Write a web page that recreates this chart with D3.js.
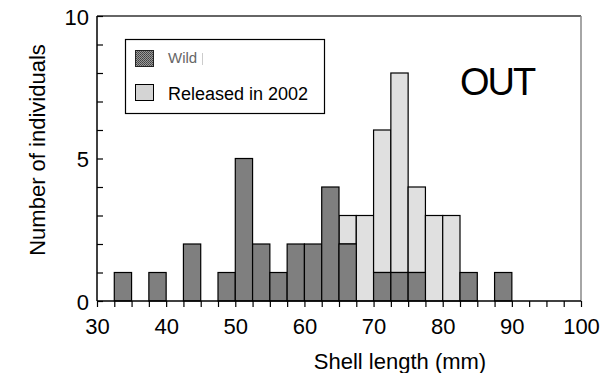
<!DOCTYPE html>
<html>
<head>
<meta charset="utf-8">
<script src="https://cdn.jsdelivr.net/npm/d3@7"></script>
<style>
  html, body { margin: 0; padding: 0; background: #fff; }
  svg { display: block; font-family: "Liberation Sans", Arial, sans-serif; }
</style>
</head>
<body>
<svg id="chart" width="604" height="373"></svg>
<script>
// Lower edges of the 2.5 mm shell-length classes
const binStarts = d3.range(30, 100, 2.5);
// Counts per class
const wildCounts =     [0,1,0,1,0,2,0,1,5,2,1,2,2,4,2,0,1,1,1,0,0,1,0,1,0,0,0,0];
const releasedCounts = [0,0,0,0,0,0,0,0,0,0,0,0,0,0,1,3,5,7,3,3,3,0,0,0,0,0,0,0];
const binWidth = 2.5;

const xTicksMajor = [30, 40, 50, 60, 70, 80, 90, 100];
const yTicksMajor = [0, 5, 10];
const seriesNames = ["Wild", "Released in 2002"];

const svg = d3.select("#chart");
const plot = { left: 97, right: 581, top: 16, bottom: 301 };
const fontSize = 22;

const x = d3.scaleLinear().domain([30, 100]).range([plot.left, plot.right]);
const y = d3.scaleLinear().domain([0, 10]).range([plot.bottom, plot.top]);

const bins = binStarts.map((s, i) => ({ start: s, wild: wildCounts[i], released: releasedCounts[i] }));

// Pattern for the wild swatch
const defs = svg.append("defs");
const pat = defs.append("pattern").attr("id", "dots")
  .attr("width", 2).attr("height", 2).attr("patternUnits", "userSpaceOnUse");
pat.append("rect").attr("width", 2).attr("height", 2).attr("fill", "#9a9a9a");
pat.append("rect").attr("width", 1).attr("height", 1).attr("fill", "#404040");
pat.append("rect").attr("x", 1).attr("y", 1).attr("width", 1).attr("height", 1).attr("fill", "#505050");

// Frame: top and right edges
svg.append("line").attr("x1", plot.left).attr("x2", plot.right)
  .attr("y1", plot.top).attr("y2", plot.top)
  .attr("stroke", "#333").attr("stroke-width", 1.5);
svg.append("line").attr("x1", plot.right).attr("x2", plot.right)
  .attr("y1", plot.top).attr("y2", plot.bottom)
  .attr("stroke", "#888").attr("stroke-width", 1.5);

// Released bars stacked on wild
svg.append("g").selectAll("rect")
  .data(bins.filter(d => d.released > 0))
  .join("rect")
  .attr("x", d => x(d.start))
  .attr("width", d => x(d.start + binWidth) - x(d.start))
  .attr("y", d => y(d.wild + d.released))
  .attr("height", d => y(d.wild) - y(d.wild + d.released))
  .attr("fill", "#e0e0e0").attr("stroke", "#000").attr("stroke-width", 1.2);

// Wild bars
svg.append("g").selectAll("rect")
  .data(bins.filter(d => d.wild > 0))
  .join("rect")
  .attr("x", d => x(d.start))
  .attr("width", d => x(d.start + binWidth) - x(d.start))
  .attr("y", d => y(d.wild))
  .attr("height", d => y(0) - y(d.wild))
  .attr("fill", "#7f7f7f").attr("stroke", "#000").attr("stroke-width", 1.2);

// X axis: minor ticks every class, labels every 10 mm
const xAxis = d3.axisBottom(x)
  .tickValues(d3.range(30, 100.01, 2.5))
  .tickSize(6)
  .tickFormat(d => xTicksMajor.includes(d) ? d : "");
const gx = svg.append("g").attr("transform", `translate(0,${plot.bottom})`).call(xAxis);
gx.select(".domain").attr("d", `M${plot.left},0H${plot.right}`).attr("stroke", "#000").attr("stroke-width", 1.5);
gx.selectAll(".tick line").attr("stroke", "#000").attr("stroke-width", 1.2);
gx.selectAll(".tick text").attr("font-size", fontSize).attr("fill", "#000")
  .attr("font-family", "Liberation Sans, Arial, sans-serif").attr("dy", "1.1em");

// Y axis: inward ticks every unit, labels at 0, 5, 10
const yAxis = d3.axisLeft(y)
  .tickValues(d3.range(0, 10.01, 1))
  .tickSize(-6)
  .tickPadding(8)
  .tickFormat(d => yTicksMajor.includes(d) ? d : "");
const gy = svg.append("g").attr("transform", `translate(${plot.left},0)`).call(yAxis);
gy.select(".domain").attr("d", `M0,${plot.bottom}V${plot.top}`).attr("stroke", "#000").attr("stroke-width", 1.5);
gy.selectAll(".tick line").attr("stroke", "#000").attr("stroke-width", 1.2);
gy.selectAll(".tick text").attr("font-size", fontSize).attr("fill", "#000")
  .attr("font-family", "Liberation Sans, Arial, sans-serif").attr("dy", "0.38em");

// Axis titles
svg.append("text").attr("x", 400).attr("y", 369)
  .attr("text-anchor", "middle").attr("font-size", fontSize).text("Shell length (mm)");
svg.append("text")
  .attr("transform", "translate(45,150) rotate(-90)")
  .attr("text-anchor", "middle").attr("font-size", fontSize).text("Number of individuals");

// Panel label
svg.append("text").attr("x", 460).attr("y", 95)
  .attr("font-size", 38).attr("letter-spacing", -2).text("OUT");

// Legend
const lg = svg.append("g");
lg.append("rect").attr("x", 125.5).attr("y", 39.5).attr("width", 199).attr("height", 74)
  .attr("fill", "#fff").attr("stroke", "#000").attr("stroke-width", 1.2);
lg.append("rect").attr("x", 135.5).attr("y", 50.5).attr("width", 18).attr("height", 16)
  .attr("fill", "url(#dots)").attr("stroke", "#222").attr("stroke-width", 1);
lg.append("text").attr("x", 168).attr("y", 63).attr("font-size", 15).attr("fill", "#666")
  .text(seriesNames[0]);
lg.append("line").attr("x1", 202.5).attr("x2", 202.5).attr("y1", 53).attr("y2", 65)
  .attr("stroke", "#ccc").attr("stroke-width", 1);
lg.append("rect").attr("x", 135.5).attr("y", 84.5).attr("width", 18).attr("height", 16)
  .attr("fill", "#d4d4d4").attr("stroke", "#000").attr("stroke-width", 1);
lg.append("text").attr("x", 168).attr("y", 100).attr("font-size", 18).attr("fill", "#000")
  .text(seriesNames[1]);
</script>
</body>
</html>
